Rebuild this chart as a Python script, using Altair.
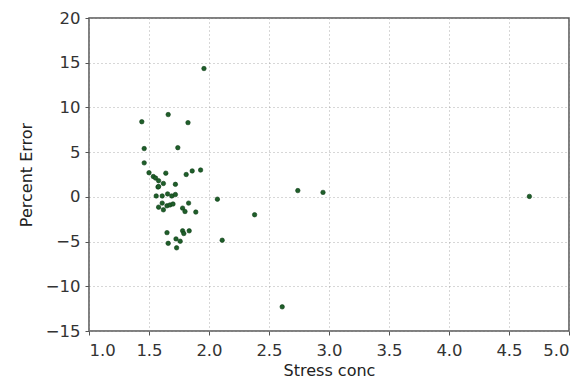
import altair as alt
import pandas as pd

stress_conc = [1.958, 1.44, 1.66, 1.825, 1.46, 1.74, 1.46, 1.50, 1.536, 1.555,
               1.58, 1.62, 1.575, 1.64, 1.72, 1.81, 1.86, 1.93,
               1.58, 1.56, 1.61, 1.655, 1.69, 1.72, 2.07, 1.61, 1.58, 1.62,
               1.65, 1.675, 1.70, 1.78, 1.80, 1.83, 1.89, 1.65, 1.78, 1.79,
               1.835, 1.725, 1.76, 1.66, 1.73, 2.11,
               2.38, 2.74, 2.95, 4.67, 2.61]
percent_error = [14.35, 8.4, 9.2, 8.3, 5.4, 5.5, 3.8, 2.7, 2.27, 2.1,
                 1.8, 1.5, 1.1, 2.65, 1.4, 2.5, 2.9, 3.0,
                 1.15, 0.1, 0.1, 0.33, 0.1, 0.26, -0.26, -0.7, -1.15, -1.45,
                 -1.0, -0.9, -0.8, -1.26, -1.64, -0.7, -1.7, -4.0, -3.8, -4.1,
                 -3.8, -4.7, -4.96, -5.2, -5.7, -4.85,
                 -2.0, 0.7, 0.5, 0.05, -12.3]

df = pd.DataFrame({"Stress conc": stress_conc, "Percent Error": percent_error})

axis_common = dict(
    grid=True, gridColor="#999999", gridDash=[1, 3], gridWidth=0.8,
    domain=False, ticks=True, tickColor="#555555", tickSize=4,
    labelFont="DejaVu Sans", labelFontSize=16.5, labelColor="#333333",
    titleFont="DejaVu Sans", titleFontSize=16, titleFontWeight="normal",
    titleColor="#222222",
)

chart = alt.Chart(df).mark_circle(
    size=20, color="#1f5f2a", opacity=1, stroke="#0d3d15", strokeWidth=0.6
).encode(
    x=alt.X("Stress conc:Q",
            scale=alt.Scale(domain=[1.0, 5.0], nice=False, zero=False),
            axis=alt.Axis(values=[1.0, 1.5, 2.0, 2.5, 3.0, 3.5, 4.0, 4.5, 5.0],
                          format=".1f", labelPadding=7, titlePadding=4,
                          **axis_common)),
    y=alt.Y("Percent Error:Q",
            scale=alt.Scale(domain=[-15, 20], nice=False, zero=False),
            axis=alt.Axis(values=[-15, -10, -5, 0, 5, 10, 15, 20],
                          format="d", labelPadding=5, titlePadding=11,
                          **axis_common)),
).properties(
    width=480, height=313,
    autosize=alt.AutoSizeParams(type="none"),
    padding={"left": 81, "top": 10, "right": 11, "bottom": 52},
).configure_view(
    stroke="#555555", strokeWidth=1.5
).configure_axisY(
    labelExpr="replace(datum.label, '-', '\u2212')"
)

chart.save("out.html", embed_options={"renderer": "svg", "actions": False})
